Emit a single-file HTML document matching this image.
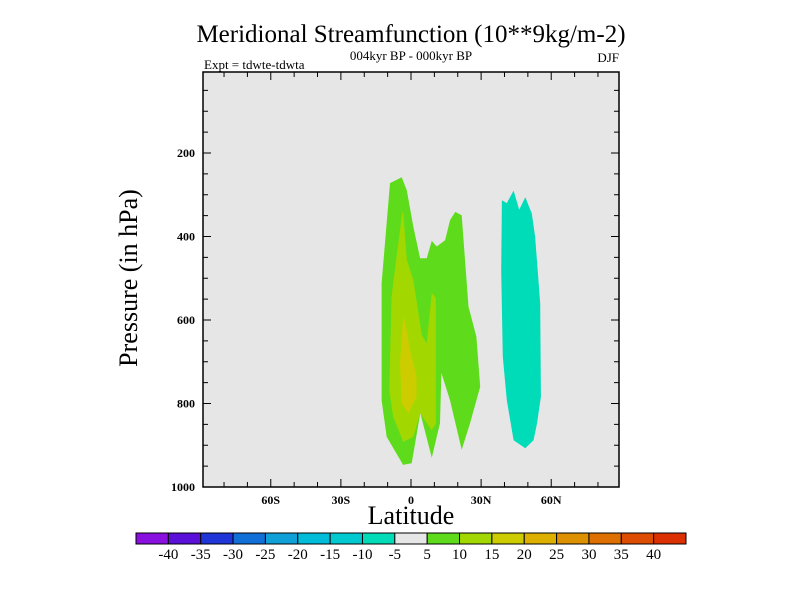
<!DOCTYPE html>
<html><head><meta charset="utf-8"><style>
body{margin:0;background:#fff;}
svg{display:block;font-family:"Liberation Serif",serif;}
</style></head><body>
<svg id="chart" width="800" height="600">
<text x="411" y="42" font-size="25" text-anchor="middle">Meridional Streamfunction (10**9kg/m-2)</text>
<text x="411" y="60" font-size="13" text-anchor="middle">004kyr BP - 000kyr BP</text>
<text x="204" y="69" font-size="13">Expt = tdwte-tdwta</text>
<text x="619" y="62" font-size="13" text-anchor="end">DJF</text>
<rect x="203" y="72" width="416" height="415" fill="#e6e6e6"/>
<g id="contours"></g>
<g id="axes"></g>
<rect x="203" y="72" width="416" height="415" fill="none" stroke="#000" stroke-width="1.5"/>
<text transform="translate(137,278) rotate(-90)" font-size="26" text-anchor="middle">Pressure (in hPa)</text>
<text x="411" y="524" font-size="26" text-anchor="middle">Latitude</text>
<g id="colorbar"></g>
</svg>
<script>
const latTicks=[-60,-30,0,30,60];
const latTickLabels=["60S","30S","0","30N","60N"];
const presTicks=[200,400,600,800,1000];
const levelLabels=["-40","-35","-30","-25","-20","-15","-10","-5","5","10","15","20","25","30","35","40"];
const levelColors=["#8a10e0","#5a10d8","#2035d8","#1070d8","#10a0d8","#00bcd8","#00cad0","#00dbb8","#e6e6e6","#5edc1c","#a2d800","#cccc00","#ddb000","#dd9000","#dd7000","#dd4c00","#dd3000"];
// contour polygons: [lat, pressure]
const green5=[[-4,258],[-9,272],[-12.6,512],[-12.6,792],[-10.4,880],[-3.4,947],[0.3,943],[4,823],[8.9,930],[12.4,847],[13,727],[16.7,792],[21.7,911],[25.3,847],[29.6,760],[28,640],[24.6,568],[21.7,349],[18.9,341],[16.7,361],[14.6,409],[11,424],[8.9,410],[6.7,452],[3.9,452],[1,376],[-1.8,289]];
const yg10=[[-3.7,341],[-6.9,480],[-8.3,544],[-9.3,768],[-7.6,832],[-3.3,892],[1,880],[3.9,824],[8.9,864],[10.6,848],[10.6,548],[8.9,535],[6.7,656],[4.6,636],[1,504],[-1.8,456],[-3.3,345]];
const yel15=[[-3.3,588],[-4.7,704],[-4,800],[-1.1,824],[2.4,784],[2.4,736],[-0.4,672],[-2.1,616]];
const teal10=[[38.9,313],[41,320],[43.9,290],[46.3,336],[48.9,306],[51.7,345],[53.1,400],[55.3,560],[55.6,784],[53.9,848],[52.4,888],[48.9,907],[43.9,888],[41,792],[39.3,688],[38.6,480]];
const contourSets=[[green5,9,"contour-5-10"],[yg10,10,"contour-10-15"],[yel15,11,"contour-15-20"],[teal10,7,"contour-neg10-neg5"]];

const NS="http://www.w3.org/2000/svg";
const X0=203,X1=619,Y0=72,Y1=487,LATMIN=-89,LATMAX=89,PTOP=6,PBOT=1000;
const xs=l=>X0+(l-LATMIN)/(LATMAX-LATMIN)*(X1-X0);
const ys=p=>Y0+(p-PTOP)/(PBOT-PTOP)*(Y1-Y0);
function mk(tag,attrs,parent){const e=document.createElementNS(NS,tag);for(const k in attrs)e.setAttribute(k,attrs[k]);parent.appendChild(e);return e;}
const cg=document.getElementById('contours');
contourSets.forEach(([pts,ci,name])=>{
  const p=mk('polygon',{points:pts.map(q=>xs(q[0]).toFixed(1)+","+ys(q[1]).toFixed(1)).join(" "),fill:levelColors[ci]},cg);
  
  
});
const ax=document.getElementById('axes');
for(let l=-80;l<=80;l+=10){
  const major=l%30===0;const len=major?8:5;const x=xs(l);
  const t1=mk('line',{x1:x,x2:x,y1:Y1,y2:Y1-len,stroke:"#000"},ax);
  
  
  const t2=mk('line',{x1:x,x2:x,y1:Y0,y2:Y0+len,stroke:"#000"},ax);
  
  
}
latTicks.forEach((l,i)=>{
  const t=mk('text',{x:xs(l),y:Y1+17,'font-size':12,'font-weight':'bold','text-anchor':'middle'},ax);
  t.textContent=latTickLabels[i];
  
  
});
for(let p=50;p<=1000;p+=50){
  const major=p%200===0;const len=major?8:5;const y=ys(p);
  const t1=mk('line',{x1:X0,x2:X0+len,y1:y,y2:y,stroke:"#000"},ax);
  
  
  const t2=mk('line',{x1:X1,x2:X1-len,y1:y,y2:y,stroke:"#000"},ax);
  
  
}
presTicks.forEach(p=>{
  const t=mk('text',{x:X0-8,y:ys(p)+4,'font-size':12,'font-weight':'bold','text-anchor':'end'},ax);
  t.textContent=p;
  
  
});
const cb=document.getElementById('colorbar');
const CB0=136,CB1=686,CBY=533,CBH=11,bw=(CB1-CB0)/levelColors.length;
levelColors.forEach((c,i)=>{
  const r=mk('rect',{x:CB0+i*bw,y:CBY,width:bw,height:CBH,fill:c,stroke:"#000","stroke-width":1},cb);
  
  
});
levelLabels.forEach((s,i)=>{
  const t=mk('text',{x:CB0+(i+1)*bw,y:CBY+CBH+15,'font-size':15,'text-anchor':'middle'},cb);
  t.textContent=s;
  
  
});
</script>
</body></html>
